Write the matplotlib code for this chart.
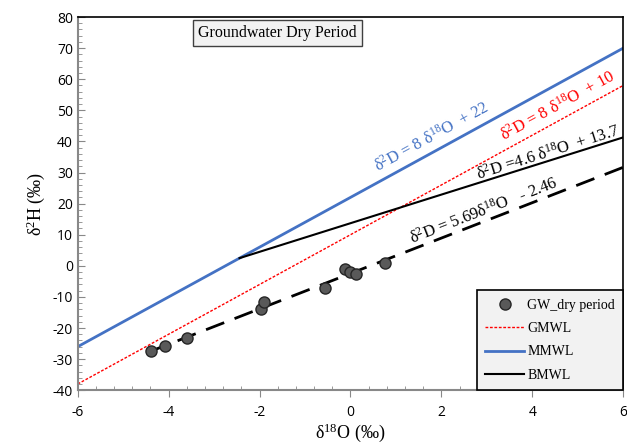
import numpy as np
import matplotlib.pyplot as plt
from matplotlib.ticker import MultipleLocator

plt.rcParams['mathtext.fontset'] = 'custom'
plt.rcParams['mathtext.rm'] = 'Liberation Serif'
plt.rcParams['mathtext.it'] = 'Liberation Serif:italic'
plt.rcParams['axes.unicode_minus'] = False

# groundwater samples, dry period
d18O = [-4.38, -4.09, -3.59, -1.96, -1.90, -0.56, -0.12, -0.01, 0.12, 0.75]
d2H = [-27.5, -25.8, -23.3, -13.9, -11.7, -7.2, -1.1, -2.0, -2.7, 0.9]

# meteoric water lines: slope, intercept
gmwl = (8, 10)
mmwl = (8, 22)
bmwl = (4.6, 13.7)
gw_fit = (5.69, -2.46)

serif = ['Liberation Serif', 'DejaVu Serif']

fig = plt.figure(figsize=(6.27, 4.48), dpi=100)
ax = fig.add_axes([0.124, 0.129, 0.870, 0.833])
ax.set_xlim(-6, 6)
ax.set_ylim(-40, 80)

xs = np.array([-6, 6])
x_b = np.array([(mmwl[1] - bmwl[1]) / (bmwl[0] - mmwl[0]), 6])
x_f = np.array([min(d18O) - 0.05, 6])

ax.plot(xs, gmwl[0] * xs + gmwl[1], color='red', ls=(0, (2, 1.2)), lw=1.0, label='GMWL', zorder=2)
ax.plot(xs, mmwl[0] * xs + mmwl[1], color='#4472C4', lw=2.0, label='MMWL', zorder=2)
ax.plot(x_b, bmwl[0] * x_b + bmwl[1], color='black', lw=1.5, label='BMWL', zorder=2)
ax.plot(x_f, gw_fit[0] * x_f + gw_fit[1], color='black', lw=2.0, ls=(0, (7, 4)), zorder=2)
ax.plot(d18O, d2H, 'o', color='#595959', mec='#262626', ms=8, label='GW_dry period', zorder=3)


def angle(slope):
    p = ax.transData.transform([(0, 0), (1, slope)])
    return np.degrees(np.arctan2(p[1, 1] - p[0, 1], p[1, 0] - p[0, 0]))


txt = dict(family=serif, fontsize=12, ha='center', va='center', rotation_mode='anchor')
ax.text(1.79, 41.4, r'δ$^{2}$D = 8 δ$^{18}$O  + 22', color='#4472C4', rotation=angle(8), **txt)
ax.text(4.55, 51.5, r'δ$^{2}$D = 8 δ$^{18}$O  + 10', color='red', rotation=angle(8), **txt)
ax.text(4.35, 36.5, r'δ$^{2}$D =4.6 δ$^{18}$O  + 13.7', color='black', rotation=angle(4.6), **txt)
ax.text(2.93, 17.8, r'δ$^{2}$D = 5.69δ$^{18}$O   - 2.46', color='black', rotation=angle(5.69), **txt)

ax.text(-3.35, 74.8, 'Groundwater Dry Period', family=serif, fontsize=11.5, ha='left', va='center',
        bbox=dict(boxstyle='square,pad=0.3', fc='#f2f2f2', ec='#404040', lw=1))

ax.set_xlabel(r'δ$^{18}$O (‰)', family=serif, fontsize=13, labelpad=1)
ax.set_ylabel(r'δ$^{2}$H (‰)', family=serif, fontsize=13, labelpad=4)

ax.xaxis.set_major_locator(MultipleLocator(2))
ax.xaxis.set_minor_locator(MultipleLocator(0.4))
ax.yaxis.set_major_locator(MultipleLocator(10))
ax.yaxis.set_minor_locator(MultipleLocator(2))
ax.tick_params(which='both', direction='in', colors='#888888', labelcolor='black', labelsize=10)
ax.tick_params(which='major', length=5)
ax.tick_params(which='minor', length=3)
ax.tick_params(axis='x', which='major', direction='out', pad=6)
for lab in ax.get_xticklabels() + ax.get_yticklabels():
    lab.set_family(['Open Sans', 'DejaVu Sans'])

for s in ['left', 'bottom']:
    ax.spines[s].set_color('#888888')
    ax.spines[s].set_linewidth(1.5)
for s in ['top', 'right']:
    ax.spines[s].set_color('black')
    ax.spines[s].set_linewidth(1.2)

h, l = ax.get_legend_handles_labels()
order = [3, 0, 1, 2]
leg = ax.legend([h[i] for i in order], [l[i] for i in order], loc='lower right',
                bbox_to_anchor=(1.0, 0.0), borderaxespad=0, prop={'family': serif, 'size': 10},
                fancybox=False, edgecolor='black', facecolor='#f2f2f2', framealpha=1, borderpad=0.6,
                labelspacing=0.75, handlelength=2.8, handletextpad=0.2)
leg.get_frame().set_linewidth(1.2)

fig.savefig('out.png', dpi=100)
